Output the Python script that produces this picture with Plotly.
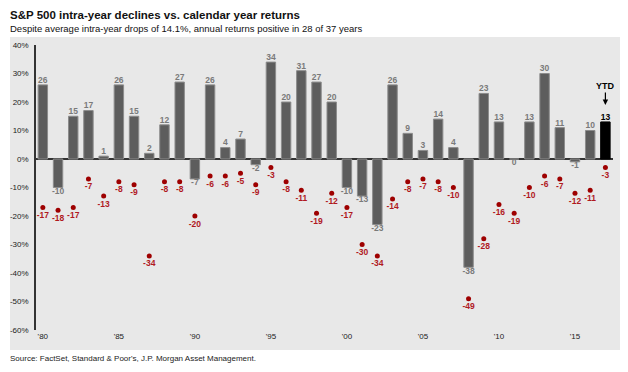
import plotly.graph_objects as go

years = list(range(1980, 2018))
annual_returns = [26, -10, 15, 17, 1, 26, 15, 2, 12, 27,
                  -7, 26, 4, 7, -2, 34, 20, 31, 27, 20,
                  -10, -13, -23, 26, 9, 3, 14, 4, -38, 23,
                  13, 0, 13, 30, 11, -1, 10, 13]
intra_year_declines = [-17, -18, -17, -7, -13, -8, -9, -34, -8, -8,
                       -20, -6, -6, -5, -9, -3, -8, -11, -19, -12,
                       -17, -30, -34, -14, -8, -7, -8, -10, -49, -28,
                       -16, -19, -10, -6, -7, -12, -11, -3]
tick_years = [1980, 1985, 1990, 1995, 2000, 2005, 2010, 2015]
tick_labels = ["'80", "'85", "'90", "'95", "'00", "'05", "'10", "'15"]
y_ticks = [40, 30, 20, 10, 0, -10, -20, -30, -40, -50, -60]
y_tick_labels = ["40%", "30%", "20%", "10%", "0%", "-10%", "-20%", "-30%", "-40%", "-50%", "-60%"]

FONT = "Liberation Sans, Arial, sans-serif"
n = len(years)
bar_colors = ["#5d5d5d"] * (n - 1) + ["#000000"]
bar_line = ["#8c8c8c"] * (n - 1) + ["#000000"]
label_colors = ["#7a7a7a"] * (n - 1) + ["#000000"]

# The page places the figure 8px from the top-left corner of the window.
OFF = 8
W, H = 628 - OFF, 372 - OFF
L, T, R, B = 36 - OFF, 45 - OFF, 15, 42
PW = W - L - R
PH = H - T - B


def px_x(page_x):
    return (page_x - OFF - L) / PW


def px_y(page_y):
    return (T + PH - (page_y - OFF)) / PH


fig = go.Figure()
fig.add_trace(go.Bar(
    x=years, y=annual_returns, width=0.62,
    marker=dict(color=bar_colors, line=dict(color=bar_line, width=1)),
    hoverinfo="skip", showlegend=False,
))
fig.add_trace(go.Scatter(
    x=years, y=annual_returns, mode="text",
    text=[str(v) for v in annual_returns],
    textposition=["top center" if v > 0 else "bottom center" for v in annual_returns],
    textfont=dict(family=FONT, size=8.5, color=label_colors, weight="bold"),
    hoverinfo="skip", showlegend=False,
))
fig.add_trace(go.Scatter(
    x=years, y=intra_year_declines, mode="markers+text",
    marker=dict(color="#9e0000", size=5),
    text=[str(v) for v in intra_year_declines],
    textposition="bottom center",
    textfont=dict(family=FONT, size=8.5, color="#b0191e", weight="bold"),
    hoverinfo="skip", showlegend=False,
))

fig.add_annotation(
    x=years[-1], y=annual_returns[-1], xref="x", yref="y",
    yshift=17, ax=0, ay=-19,
    text="<b>YTD</b>", showarrow=True, arrowhead=2, arrowsize=0.9,
    arrowwidth=1.2, arrowcolor="#000000",
    font=dict(family=FONT, size=9, color="#000000"),
)

# gray panel
fig.add_shape(type="rect", xref="paper", yref="paper",
              x0=px_x(10), x1=px_x(623), y0=px_y(350), y1=px_y(37),
              fillcolor="#e8e8e8", line=dict(width=0), layer="below")

fig.add_annotation(x=px_x(8), y=px_y(15), xref="paper", yref="paper",
                   xanchor="left", yanchor="middle",
                   text="<b>S&P 500 intra-year declines vs. calendar year returns</b>",
                   showarrow=False, font=dict(family=FONT, size=11.5, color="#111111"))
fig.add_annotation(x=px_x(8), y=px_y(28), xref="paper", yref="paper",
                   xanchor="left", yanchor="middle",
                   text="Despite average intra-year drops of 14.1%, annual returns positive in 28 of 37 years",
                   showarrow=False, font=dict(family=FONT, size=9.5, color="#111111"))
fig.add_annotation(x=px_x(8), y=px_y(358), xref="paper", yref="paper",
                   xanchor="left", yanchor="middle",
                   text="Source: FactSet, Standard & Poor's, J.P. Morgan Asset Management.",
                   showarrow=False, font=dict(family=FONT, size=8, color="#222222"))

fig.update_layout(
    width=W, height=H,
    margin=dict(l=L, r=R, t=T, b=B, autoexpand=False),
    paper_bgcolor="#ffffff", plot_bgcolor="rgba(0,0,0,0)",
    font=dict(family=FONT, size=8, color="#222222"),
)
fig.update_xaxes(range=[1979.55, 2017.5], tickvals=tick_years, ticktext=tick_labels,
                 showgrid=False, zeroline=False, showline=False, ticks="",
                 automargin=False,
                 tickfont=dict(family=FONT, size=8, color="#222222"))
fig.update_yaxes(range=[-60, 40], tickvals=y_ticks, ticktext=y_tick_labels,
                 showgrid=False, zeroline=True, zerolinecolor="#333333", zerolinewidth=1.5,
                 showline=True, linecolor="#333333", linewidth=1.5, ticks="",
                 ticklabelstandoff=4, automargin=False,
                 tickfont=dict(family=FONT, size=8, color="#222222"))

fig.write_html("out.html")
